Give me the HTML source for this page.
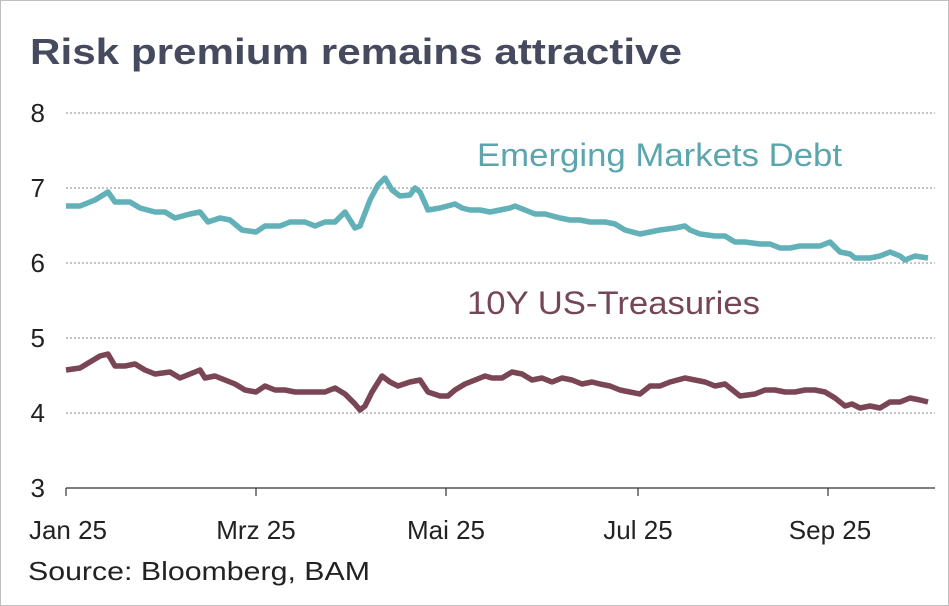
<!DOCTYPE html>
<html><head><meta charset="utf-8"><style>
html,body{margin:0;padding:0;background:#fff;}
svg{display:block;font-family:"Liberation Sans",sans-serif;}
</style></head><body>
<svg width="949" height="606" viewBox="0 0 949 606">
<rect x="0.5" y="0.5" width="948" height="605" fill="#fff" stroke="#bfbfbf"/>
<text x="30" y="64" font-size="36" font-weight="bold" fill="#454a5e" textLength="652" lengthAdjust="spacingAndGlyphs">Risk premium remains attractive</text>
<g stroke="#8a8a8a" stroke-width="1" stroke-dasharray="2,2">
<line x1="66" y1="113" x2="935" y2="113"/><line x1="66" y1="188" x2="935" y2="188"/>
<line x1="66" y1="263" x2="935" y2="263"/><line x1="66" y1="338" x2="935" y2="338"/>
<line x1="66" y1="413" x2="935" y2="413"/>
</g>
<line x1="66" y1="488" x2="935" y2="488" stroke="#333" stroke-width="1.2"/>
<g stroke="#333" stroke-width="1.2">
<line x1="66" y1="488" x2="66" y2="496"/><line x1="256" y1="488" x2="256" y2="496"/>
<line x1="446" y1="488" x2="446" y2="496"/><line x1="638" y1="488" x2="638" y2="496"/>
<line x1="828" y1="488" x2="828" y2="496"/>
</g>
<g font-size="26" fill="#222" text-anchor="end">
<text x="45" y="122">8</text><text x="45" y="197">7</text><text x="45" y="272">6</text>
<text x="45" y="347">5</text><text x="45" y="422">4</text><text x="45" y="497">3</text>
</g>
<g font-size="26" fill="#222" text-anchor="middle">
<text x="68" y="539">Jan 25</text><text x="256" y="539">Mrz 25</text><text x="446" y="539">Mai 25</text>
<text x="638" y="539">Jul 25</text><text x="830" y="539">Sep 25</text>
</g>
<text x="28" y="580" font-size="26" fill="#222" textLength="342" lengthAdjust="spacingAndGlyphs">Source: Bloomberg, BAM</text>
<text x="477" y="166" font-size="32" fill="#5ba6ae" textLength="365" lengthAdjust="spacingAndGlyphs">Emerging Markets Debt</text>
<text x="467" y="314" font-size="32" fill="#754756" textLength="293" lengthAdjust="spacingAndGlyphs">10Y US-Treasuries</text>
<polyline fill="none" stroke="#62b0b8" stroke-width="5.5" stroke-linejoin="round" points="66,206 80,206 95,200 108,192 115,202 130,202 140,208 155,212 165,212 175,218 190,214 200,212 208,222 220,218 230,220 242,230 256,232 265,226 280,226 290,222 305,222 315,226 325,222 335,222 345,212 355,228 360,226 370,200 378,185 385,178 392,190 400,196 410,195 415,188 420,192 428,210 440,208 455,204 462,208 470,210 480,210 490,212 500,210 510,208 515,206 525,210 535,214 545,214 560,218 570,220 580,220 590,222 605,222 615,224 625,230 640,234 650,232 660,230 675,228 685,226 690,230 700,234 715,236 725,236 735,242 745,242 760,244 770,244 780,248 790,248 800,246 810,246 820,246 830,242 840,252 850,254 855,258 870,258 880,256 890,252 900,256 905,260 915,256 928,258"/>
<polyline fill="none" stroke="#7a4655" stroke-width="5.5" stroke-linejoin="round" points="66,370 80,368 90,362 100,356 108,354 115,366 125,366 135,364 145,370 155,374 170,372 180,378 190,374 200,370 205,378 215,376 225,380 235,384 245,390 256,392 265,386 275,390 285,390 295,392 305,392 315,392 325,392 335,388 345,394 355,404 360,410 365,406 372,392 382,376 390,382 398,386 410,382 420,380 428,392 440,396 448,396 455,390 465,384 475,380 485,376 492,378 502,378 512,372 522,374 532,380 542,378 552,382 562,378 572,380 582,384 592,382 600,384 610,386 620,390 630,392 640,394 650,386 660,386 670,382 685,378 695,380 705,382 715,386 725,384 735,392 740,396 755,394 765,390 775,390 785,392 795,392 805,390 815,390 825,392 835,398 845,406 852,404 860,408 870,406 880,408 890,402 900,402 910,398 920,400 928,402"/>
</svg>
</body></html>
